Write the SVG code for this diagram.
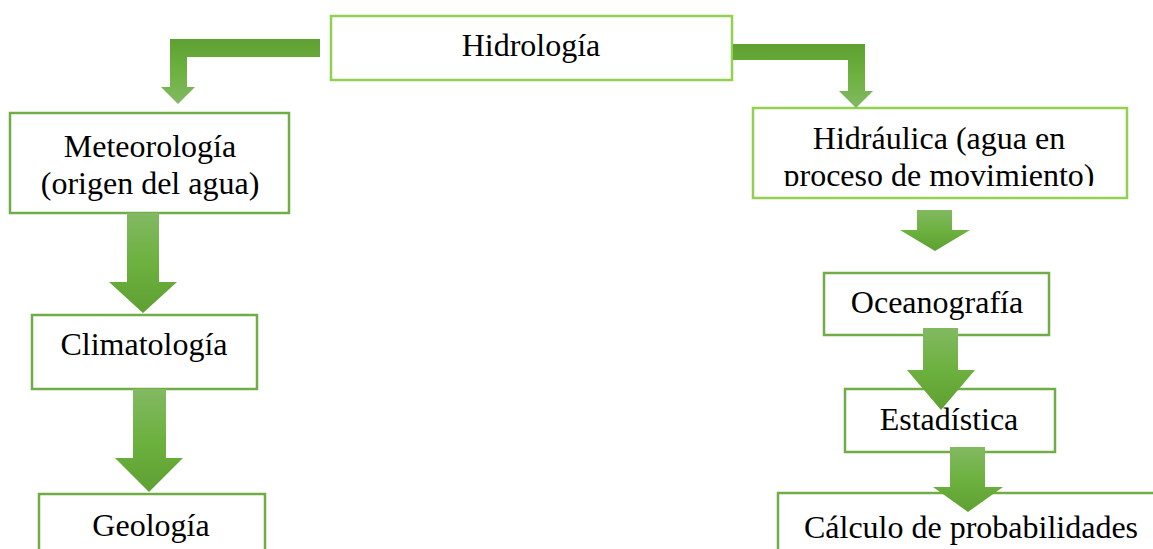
<svg xmlns="http://www.w3.org/2000/svg" width="1153" height="549" viewBox="0 0 1153 549">
<style>
.box{fill:#fff;stroke:#70AD47;stroke-width:2.5}
.lt{stroke:#92D050}
.t{font-family:"Liberation Serif","Times New Roman",serif;font-size:32px;fill:#000;text-anchor:middle}
.ar{fill:url(#gd)}
.el{fill:url(#ge)}
</style>
<defs>
<linearGradient id="gd" x1="0" y1="0" x2="0" y2="1">
<stop offset="0" stop-color="#82B962"/>
<stop offset="0.5" stop-color="#6DB13F"/>
<stop offset="1" stop-color="#5EA032"/>
</linearGradient>
<linearGradient id="ge" x1="0" y1="0" x2="0" y2="1">
<stop offset="0" stop-color="#5EA032"/>
<stop offset="0.5" stop-color="#6DB13F"/>
<stop offset="1" stop-color="#82B962"/>
</linearGradient>
<clipPath id="hclip"><rect x="753" y="108" width="374" height="78"/></clipPath>
</defs>
<g id="hidrologia"><rect class="box lt" x="331" y="16" width="401" height="64"/><text class="t" x="531" y="56">Hidrología</text></g>
<g id="meteorologia"><rect class="box" x="10" y="113" width="279" height="100"/><text class="t" x="150" y="157">Meteorología</text><text class="t" x="150" y="194">(origen del agua)</text></g>
<g id="climatologia"><rect class="box" x="32" y="315" width="225" height="74"/><text class="t" x="144" y="355">Climatología</text></g>
<g id="geologia"><rect class="box" x="39" y="494" width="226" height="70"/><text class="t" x="151" y="536">Geología</text></g>
<g id="hidraulica"><rect class="box lt" x="753" y="108" width="374" height="90"/><g clip-path="url(#hclip)"><text class="t" x="939" y="149">Hidráulica (agua en</text><text class="t" x="939" y="186">proceso de movimiento)</text></g></g>
<g id="oceanografia"><rect class="box" x="824" y="273" width="225" height="62"/><text class="t" x="937" y="313">Oceanografía</text></g>
<g id="estadistica"><rect class="box" x="845" y="389" width="210" height="63"/><text class="t" x="949" y="430">Estadística</text></g>
<g id="calculo"><rect class="box" x="778" y="493" width="390" height="70"/><text class="t" x="971" y="538">Cálculo de probabilidades</text></g>
<g id="connectors">
<polygon class="el" points="320,39 170,39 170,87 161,87 178,104 195,87 187,87 187,57 320,57"/>
<polygon class="el" points="733,44 865,44 865,91 873,91 856,108 839,91 848,91 848,60 733,60"/>
<polygon class="ar" points="127,213 159,213 159,282 177,282 143,313 109,282 127,282"/>
<polygon class="ar" points="133,389 166,389 166,458 183,458 149,492 115,458 133,458"/>
<polygon class="ar" points="917,210 952,210 952,230 970,230 935,251 900,230 917,230"/>
<polygon class="ar" points="923,328 958,328 958,370 975,370 941,410 907,370 923,370"/>
<polygon class="ar" points="950,447 985,447 985,487 1003,487 968,512 933,487 950,487"/>
</g>
</svg>
